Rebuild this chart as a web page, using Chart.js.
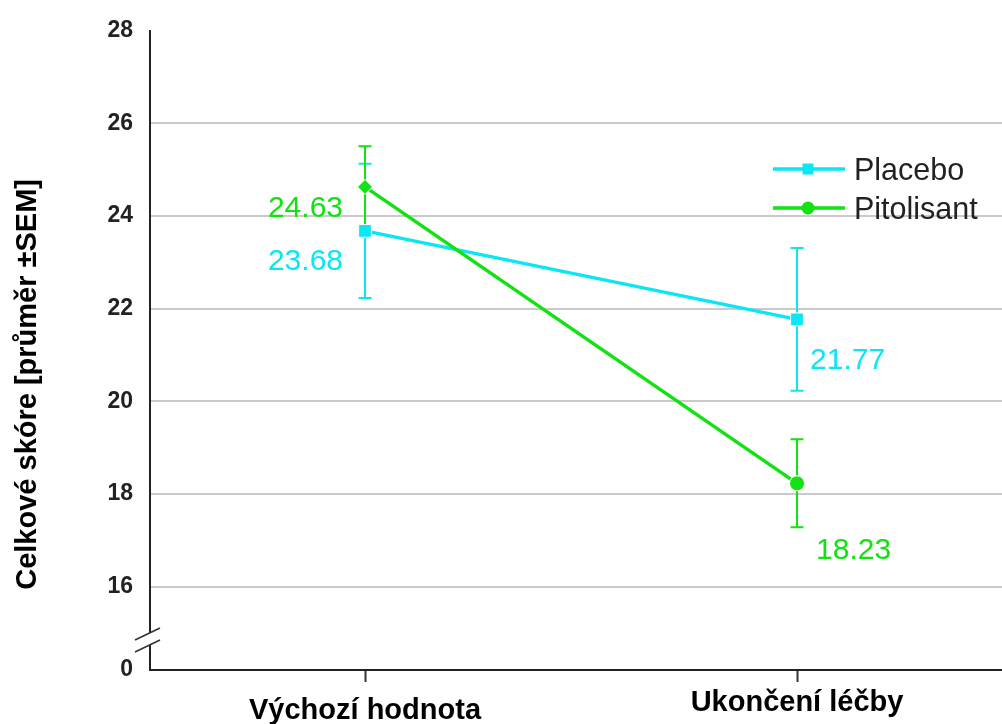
<!DOCTYPE html>
<html>
<head>
<meta charset="utf-8">
<script src="https://cdn.jsdelivr.net/npm/chart.js@4.4.1/dist/chart.umd.min.js"></script>
<style>
  html, body { margin: 0; padding: 0; background: #ffffff; }
  #wrap { width: 1002px; height: 724px; position: relative; }
</style>
</head>
<body>
<div id="wrap"><canvas id="chart" width="1002" height="724"></canvas></div>
<script>
// ---- data ----
const categories = ['Výchozí hodnota', 'Ukončení léčby'];
const seriesNames = ['Placebo', 'Pitolisant'];
const placeboMean = [23.68, 21.77];
const placeboSem = [1.45, 1.54];
const pitolisantMean = [24.63, 18.23];
const pitolisantSem = [0.88, 0.95];
const yTickValues = [16, 18, 20, 22, 24, 26, 28];
const yBreakLabel = '0';
const yAxisTitle = 'Celkové skóre [průměr ±SEM]';

// ---- styling ----
const FONT = "'Liberation Sans', Arial, sans-serif";
const CYAN = '#0ae6f4';
const GREEN = '#12e212';
const Y_FLOOR = 14.2;   // bottom of the broken axis, labelled "0"
const Y_TOP = 28;

// value label placement (pixel offsets from the point)
const labelPlacement = {
  Placebo:    [{ dx: -22, dy: 28, align: 'right' }, { dx: 13, dy: 39, align: 'left' }],
  Pitolisant: [{ dx: -22, dy: 19, align: 'right' }, { dx: 19, dy: 65, align: 'left' }]
};

const toPoints = arr => arr.map((v, i) => ({ x: i, y: v }));

// error bars (mean ± SEM), drawn under the markers
const errorBars = {
  id: 'errorBars',
  beforeDatasetsDraw(chart) {
    const { ctx, scales: { x, y } } = chart;
    chart.data.datasets.forEach(ds => {
      ctx.save();
      ctx.strokeStyle = ds.borderColor;
      ctx.lineWidth = 2;
      ds.data.forEach((p, j) => {
        const px = x.getPixelForValue(p.x);
        const top = y.getPixelForValue(p.y + ds.sem[j]);
        const bot = y.getPixelForValue(p.y - ds.sem[j]);
        ctx.beginPath();
        ctx.moveTo(px, top); ctx.lineTo(px, bot);
        ctx.moveTo(px - 6.5, top); ctx.lineTo(px + 6.5, top);
        ctx.moveTo(px - 6.5, bot); ctx.lineTo(px + 6.5, bot);
        ctx.stroke();
      });
      ctx.restore();
    });
  }
};

// numeric value labels next to each mean
const valueLabels = {
  id: 'valueLabels',
  afterDatasetsDraw(chart) {
    const { ctx, scales: { x, y } } = chart;
    chart.data.datasets.forEach(ds => {
      const place = labelPlacement[ds.label];
      ds.data.forEach((p, j) => {
        const px = x.getPixelForValue(p.x);
        const py = y.getPixelForValue(p.y);
        const o = place[j];
        ctx.save();
        ctx.font = '30px ' + FONT;
        ctx.fillStyle = ds.borderColor;
        ctx.textAlign = o.align;
        ctx.textBaseline = 'alphabetic';
        ctx.fillText(p.y.toFixed(2), px + o.dx, py + o.dy + 10.7);
        ctx.restore();
      });
    });
  }
};

// legend in the upper right of the plot: line + marker + name
const lineLegend = {
  id: 'lineLegend',
  afterDraw(chart) {
    const { ctx } = chart;
    const order = seriesNames.map(n => chart.data.datasets.find(d => d.label === n));
    order.forEach((ds, k) => {
      const yy = 169 + k * 39;
      ctx.save();
      ctx.strokeStyle = ds.borderColor;
      ctx.lineWidth = 3.5;
      ctx.beginPath();
      ctx.moveTo(773, yy); ctx.lineTo(845, yy);
      ctx.stroke();
      ctx.fillStyle = ds.borderColor;
      if (ds.legendMarker === 'rect') {
        ctx.fillRect(808 - 5.5, yy - 5.5, 11, 11);
      } else {
        ctx.beginPath(); ctx.arc(808, yy, 6.5, 0, Math.PI * 2); ctx.fill();
      }
      ctx.fillStyle = '#222222';
      ctx.font = '30.5px ' + FONT;
      ctx.textAlign = 'left';
      ctx.textBaseline = 'alphabetic';
      ctx.fillText(ds.label, 854, yy + 10.8);
      ctx.restore();
    });
  }
};

// axis break marks on the y axis and the rotated axis title
const axisExtras = {
  id: 'axisExtras',
  afterDraw(chart) {
    const { ctx, chartArea, scales: { y } } = chart;
    const ax = chartArea.left;
    const yb = y.getPixelForValue(15.0);
    ctx.save();
    ctx.fillStyle = '#ffffff';
    ctx.fillRect(ax - 3, yb, 6, 12);
    ctx.strokeStyle = '#333333';
    ctx.lineWidth = 1.6;
    ctx.beginPath();
    ctx.moveTo(ax - 15, yb + 7); ctx.lineTo(ax + 10, yb - 5);
    ctx.moveTo(ax - 15, yb + 19); ctx.lineTo(ax + 10, yb + 7);
    ctx.stroke();
    ctx.restore();

    ctx.save();
    ctx.translate(28, (chartArea.top + chartArea.bottom) / 2 + 34);
    ctx.rotate(-Math.PI / 2);
    ctx.font = 'bold 29px ' + FONT;
    ctx.fillStyle = '#000000';
    ctx.textAlign = 'center';
    ctx.textBaseline = 'middle';
    ctx.fillText(yAxisTitle, 0, 0);
    ctx.restore();
  }
};

new Chart(document.getElementById('chart'), {
  type: 'line',
  data: {
    datasets: [
      {
        label: seriesNames[0],
        data: toPoints(placeboMean),
        sem: placeboSem,
        borderColor: CYAN,
        backgroundColor: CYAN,
        borderWidth: 3.5,
        pointStyle: 'rect',
        pointRadius: 9,
        pointBackgroundColor: CYAN,
        pointBorderColor: '#ffffff',
        pointBorderWidth: 1,
        legendMarker: 'rect',
        order: 2
      },
      {
        label: seriesNames[1],
        data: toPoints(pitolisantMean),
        sem: pitolisantSem,
        borderColor: GREEN,
        backgroundColor: GREEN,
        borderWidth: 3.5,
        pointStyle: ['rectRot', 'circle'],
        pointRadius: [7.5, 7.5],
        pointBackgroundColor: GREEN,
        pointBorderColor: '#ffffff',
        pointBorderWidth: 1,
        legendMarker: 'circle',
        order: 1
      }
    ]
  },
  options: {
    responsive: false,
    devicePixelRatio: 1,
    animation: false,
    layout: { autoPadding: false, padding: { top: 28, left: 0, right: 0, bottom: 0 } },
    plugins: { legend: { display: false }, tooltip: { enabled: false } },
    scales: {
      x: {
        type: 'linear',
        min: -0.4977,
        max: 1.4745,
        afterBuildTicks: s => { s.ticks = categories.map((_, i) => ({ value: i })); },
        afterFit: s => { s.height = 54; s.paddingLeft = 0; s.paddingRight = 0; },
        ticks: {
          callback: v => categories[v] ?? '',
          color: '#000000',
          padding: 3,
          maxRotation: 0,
          autoSkip: false,
          font: c => ({ family: FONT, size: 29, weight: 'bold',
                        lineHeight: c.index === 0 ? '52px' : '35px' })
        },
        grid: {
          drawOnChartArea: false,
          drawTicks: true,
          tickLength: 12,
          tickColor: '#333333',
          tickWidth: 2
        },
        border: { color: '#222222', width: 2 }
      },
      y: {
        min: Y_FLOOR,
        max: Y_TOP,
        afterBuildTicks: s => { s.ticks = [Y_FLOOR, ...yTickValues].map(v => ({ value: v })); },
        afterFit: s => { s.width = 150; },
        ticks: {
          callback: v => (v === Y_FLOOR ? yBreakLabel : String(v)),
          color: '#222222',
          padding: 17,
          font: { family: FONT, size: 23, weight: 'bold' }
        },
        grid: {
          drawTicks: false,
          lineWidth: 2,
          color: c => (c.tick && (c.tick.value === Y_TOP || c.tick.value === Y_FLOOR)) ? 'rgba(0,0,0,0)' : '#cacaca'
        },
        border: { color: '#222222', width: 2 }
      }
    }
  },
  plugins: [errorBars, valueLabels, lineLegend, axisExtras]
});
</script>
</body>
</html>
